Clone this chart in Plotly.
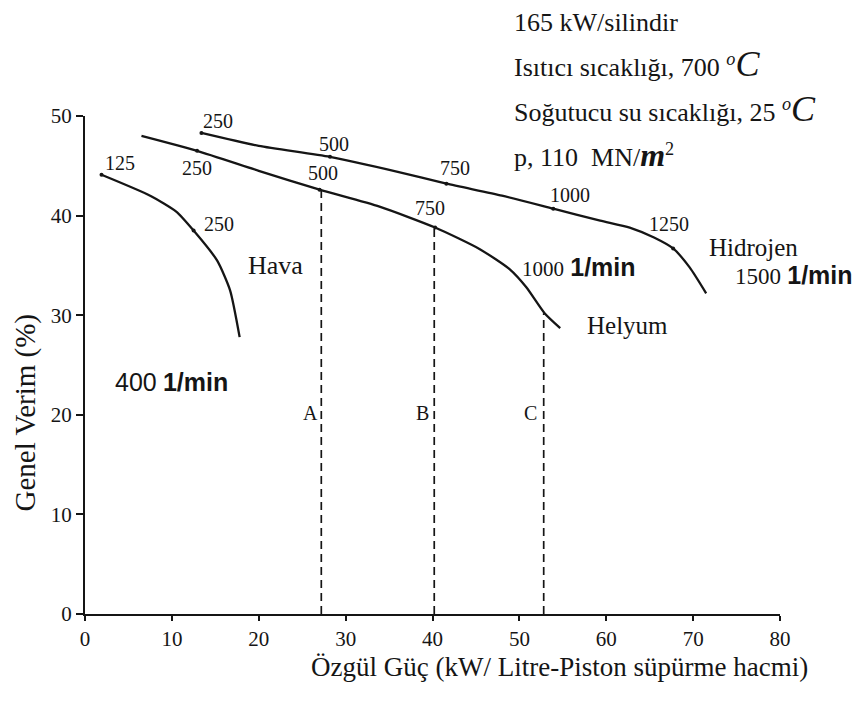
import plotly.graph_objects as go

# ---- data ----
hydrogen_x = [13.4, 20.0, 28.2, 36.0, 41.6, 48.0, 53.9, 59.3, 62.7, 65.5, 67.7, 69.6, 71.5]
hydrogen_y = [48.3, 47.0, 45.9, 44.4, 43.2, 42.0, 40.7, 39.5, 38.8, 37.8, 36.7, 34.8, 32.2]

helium_x = [6.5, 12.9, 20.0, 27.0, 33.9, 40.3, 45.5, 48.9, 50.8, 52.9, 54.7]
helium_y = [48.0, 46.5, 44.5, 42.6, 40.9, 38.8, 36.6, 34.6, 32.8, 30.2, 28.7]

air_x = [1.9, 7.5, 10.5, 12.5, 15.2, 16.7, 17.8]
air_y = [44.1, 42.0, 40.4, 38.5, 35.5, 32.5, 27.8]

# rpm marks on the curves
hyd_rpm_x = [13.4, 28.2, 41.6, 53.9, 67.7]
hyd_rpm_y = [48.3, 45.9, 43.2, 40.7, 36.7]
hel_rpm_x = [12.9, 27.0, 40.3]
hel_rpm_y = [46.5, 42.6, 38.8]
air_rpm_x = [1.9, 12.5]
air_rpm_y = [44.1, 38.5]

# rpm label texts and positions
rpm_labels = ["250", "500", "750", "1000", "1250",
              "250", "500", "750",
              "125", "250"]
rpm_label_x = [15.3, 28.7, 42.6, 55.8, 67.2,
               12.85, 27.4, 39.7,
               4.0, 15.4]
rpm_label_y = [49.5, 47.2, 44.8, 42.1, 39.2,
               44.8, 44.3, 40.8,
               45.3, 39.2]

# operating points A, B, C (vertical dashed lines)
op_names = ["A", "B", "C"]
op_x = [27.2, 40.2, 52.8]
op_top = [42.8, 38.8, 30.2]
op_label_x = [25.9, 38.8, 51.3]

x_ticks = [0, 10, 20, 30, 40, 50, 60, 70, 80]
y_ticks = [0, 10, 20, 30, 40, 50]

SERIF = "Liberation Serif"
SANS = "Liberation Sans"
INK = "#151515"

fig = go.Figure()

for xs, ys in [(hydrogen_x, hydrogen_y), (helium_x, helium_y), (air_x, air_y)]:
    fig.add_trace(go.Scatter(x=xs, y=ys, mode="lines",
                             line=dict(color=INK, width=2.3, shape="spline", smoothing=0.6),
                             hoverinfo="skip", showlegend=False))

for xs, ys in [(hyd_rpm_x, hyd_rpm_y), (hel_rpm_x, hel_rpm_y), (air_rpm_x, air_rpm_y)]:
    fig.add_trace(go.Scatter(x=xs, y=ys, mode="markers",
                             marker=dict(color=INK, size=4),
                             hoverinfo="skip", showlegend=False))

for name, xv, top, lx in zip(op_names, op_x, op_top, op_label_x):
    fig.add_trace(go.Scatter(x=[xv, xv], y=[0, top], mode="lines",
                             line=dict(color=INK, width=1.7, dash="8px,5px"),
                             hoverinfo="skip", showlegend=False))
    fig.add_annotation(x=lx, y=20.2, text=name, showarrow=False,
                       font=dict(family=SERIF, size=20, color=INK))

for t, xv, yv in zip(rpm_labels, rpm_label_x, rpm_label_y):
    fig.add_annotation(x=xv, y=yv, text=t, showarrow=False,
                       font=dict(family=SERIF, size=20, color=INK))

bold_unit = '<span style="font-family:Liberation Sans;font-weight:bold;font-size:25px">1/min</span>'

side_labels = [
    ("Hidrojen", 71.6, 36.8, 25),
    ('<span style="font-size:23px">1500</span> ' + bold_unit, 74.6, 34.0, 25),
    ('<span style="font-size:21px">1000</span> ' + bold_unit, 50.1, 34.8, 25),
    ("Helyum", 57.5, 29.0, 25),
    ("Hava", 18.5, 35.0, 26),
    ('<span style="font-family:Liberation Sans">400</span> ' + bold_unit, 3.2, 23.3, 25),
]
for t, xv, yv, fs in side_labels:
    fig.add_annotation(x=xv, y=yv, text=t, showarrow=False,
                       xanchor="left", yanchor="middle",
                       font=dict(family=SERIF, size=fs, color=INK))

deg_c = '<sup><i>o</i></sup><span style="font-size:36px;font-style:italic">C</span>'
info_lines = [
    "165 kW/silindir",
    "Isıtıcı sıcaklığı, 700 " + deg_c,
    "Soğutucu su sıcaklığı, 25 " + deg_c,
    'p, 110  MN/<span style="font-size:32px"><b><i>m</i></b></span><sup>2</sup>',
]
info_y = [1.188, 1.104, 1.015, 0.921]
for t, yv in zip(info_lines, info_y):
    fig.add_annotation(xref="paper", yref="paper", x=0.614, y=yv, text=t,
                       showarrow=False, xanchor="left", yanchor="middle",
                       font=dict(family=SERIF, size=26, color=INK))

fig.add_annotation(xref="paper", yref="paper", x=-0.086, y=0.405,
                   text="Genel Verim (%)", textangle=-90, showarrow=False,
                   xanchor="center", yanchor="middle",
                   font=dict(family=SERIF, size=29, color=INK))
fig.add_annotation(xref="paper", yref="paper", x=0.683, y=-0.106,
                   text="Özgül Güç (kW/ Litre-Piston süpürme hacmi)",
                   showarrow=False, xanchor="center", yanchor="middle",
                   font=dict(family=SERIF, size=27, color=INK))

fig.update_layout(
    width=858, height=696,
    margin=dict(l=77, r=86, t=108, b=90),
    paper_bgcolor="white", plot_bgcolor="white",
    xaxis=dict(range=[0, 80], tickvals=x_ticks, showgrid=False, zeroline=False,
               showline=True, linecolor=INK, linewidth=2, ticks="outside",
               ticklen=5, tickwidth=2, tickcolor=INK,
               tickfont=dict(family=SERIF, size=21, color=INK)),
    yaxis=dict(range=[0, 50], tickvals=y_ticks, showgrid=False, zeroline=False,
               showline=True, linecolor=INK, linewidth=2, ticks="outside",
               ticklen=7, tickwidth=2, tickcolor=INK,
               tickfont=dict(family=SERIF, size=21, color=INK)),
)

fig.write_html("out.html")
